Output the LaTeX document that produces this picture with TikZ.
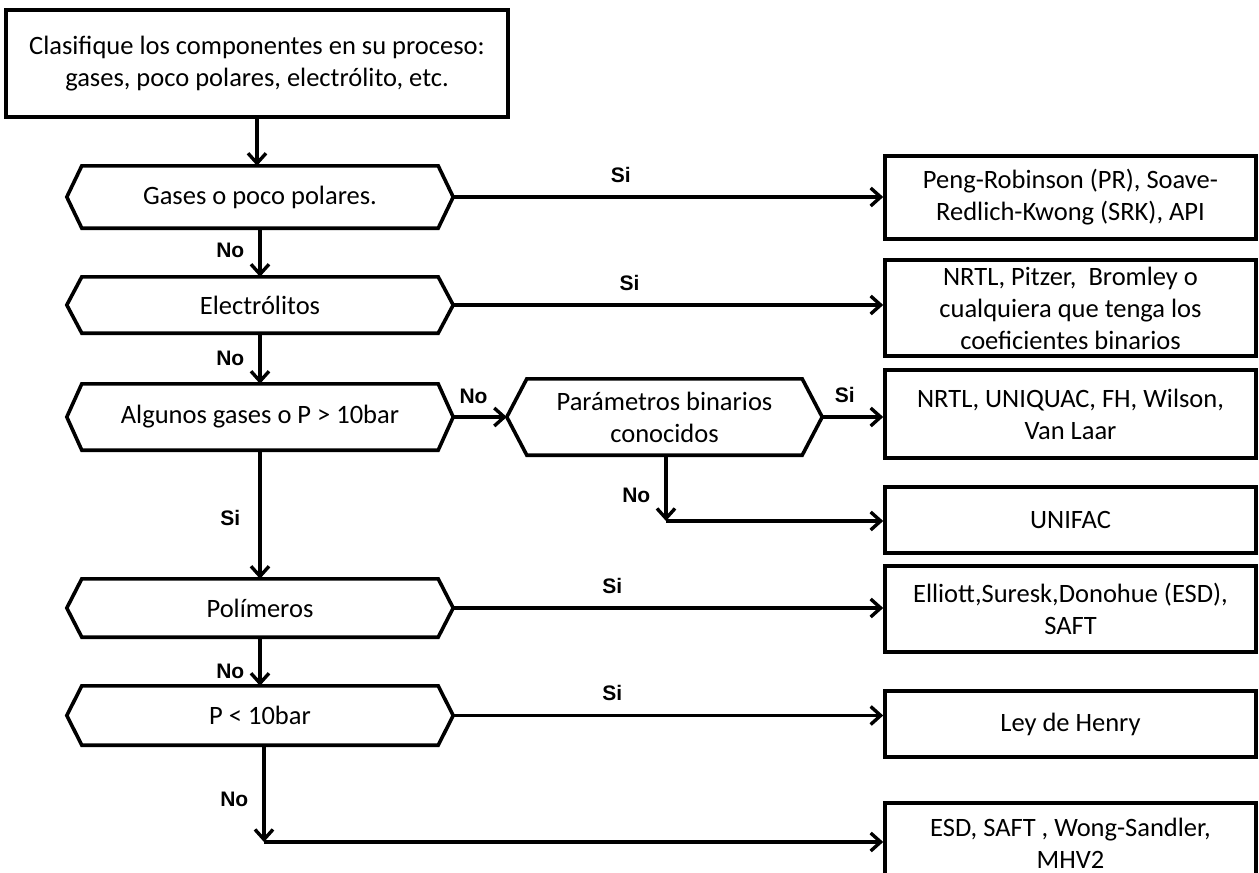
\documentclass[tikz,border=0pt]{standalone}
\usepackage{fontspec}
\setmainfont{Carlito}
\newfontfamily\labfont{Liberation Sans}
\usetikzlibrary{arrows.meta,calc}
\newcommand{\mainsz}{\fontsize{26.5}{32}\selectfont}
\newcommand{\labsz}{\labfont\bfseries\fontsize{21}{24}\selectfont}
\tikzset{
  box/.style={draw, line width=3.6pt, inner sep=0pt, align=center, font=\mainsz},
  hexn/.style={inner sep=0pt, align=center, font=\mainsz},
  hexline/.style={draw, line width=3.6pt, line join=miter},
  conn/.style={line width=3.4pt, -{Straight Barb[length=10pt,width=18pt]}},
  lab/.style={font=\labsz, inner sep=0pt},
}
\newcommand{\hexpath}[2]{\draw[hexline] (#1.west) -- ([xshift=#2pt]#1.north west) -- ([xshift=-#2pt]#1.north east) -- (#1.east) -- ([xshift=-#2pt]#1.south east) -- ([xshift=#2pt]#1.south west) -- cycle;}
\begin{document}
\begin{tikzpicture}[x=1pt,y=-1pt]
\useasboundingbox (0,0) rectangle (1259,873);
\fill[white] (0,0) rectangle (1259,873);
\clip (0,0) rectangle (1259,873);

% left column
\node[box, minimum width=502, minimum height=107] (top) at (257,63.5)
  {Clasifique los componentes en su proceso:\\gases, poco polares, electrólito, etc.};
\node[hexn, minimum width=386, minimum height=62] (g1) at (260,197) {Gases o poco polares.};
\hexpath{g1}{15}
\node[hexn, minimum width=386, minimum height=56] (g2) at (260,305) {Electrólitos};
\hexpath{g2}{15}
\node[hexn, minimum width=386, minimum height=66] (g3) at (260,417) {Algunos gases o P > 10bar};
\hexpath{g3}{15}
\node[hexn, minimum width=315, minimum height=76] (g4) at (664.5,417) {Parámetros binarios\\conocidos};
\hexpath{g4}{20}
\node[hexn, minimum width=386, minimum height=58] (g5) at (260,608) {Polímeros};
\hexpath{g5}{15}
\node[hexn, minimum width=386, minimum height=59] (g6) at (260,715.5) {P < 10bar};
\hexpath{g6}{15}

% right column
\node[box, minimum width=371, minimum height=83] (b1) at (1070.5,197.5) {Peng-Robinson (PR), Soave-\\Redlich-Kwong (SRK), API};
\node[box, minimum width=371, minimum height=96] (b2) at (1070.5,308) {NRTL, Pitzer,~ Bromley o\\cualquiera que tenga los\\coeficientes binarios};
\node[box, minimum width=371, minimum height=88] (b3) at (1070.5,414) {NRTL, UNIQUAC, FH, Wilson,\\Van Laar};
\node[box, minimum width=371, minimum height=66] (b4) at (1070.5,520) {UNIFAC};
\node[box, minimum width=371, minimum height=86] (b5) at (1070.5,609) {Elliott,Suresk,Donohue (ESD),\\SAFT};
\node[box, minimum width=371, minimum height=66] (b6) at (1070.5,724) {Ley de Henry};
\node[box, minimum width=371, minimum height=80] (b7) at (1070.5,843) {ESD, SAFT , Wong-Sandler,\\MHV2};

\coordinate (c1) at (666,521);
\coordinate (c2) at (264,842);

% connectors
\draw[conn] (top.south) -- (top.south |- g1.north);
\draw[conn] (g1.east) -- node[lab, pos=.39, above=13pt] {Si} (g1.east -| b1.west);
\draw[conn] (g1.south) -- node[lab, pos=.45, left=14pt] {No} (g2.north);
\draw[conn] (g2.east) -- node[lab, pos=.41, above=13pt] {Si} (g2.east -| b2.west);
\draw[conn] (g2.south) -- node[lab, pos=.49, left=14pt] {No} (g3.north);
\draw[conn] (g3.east) -- node[lab, pos=.38, above=12pt] {No} (g4.west);
\draw[conn] (g4.east) -- node[lab, pos=.37, above=13pt] {Si} (g4.east -| b3.west);
\draw[conn] (g4.south -| c1) -- node[lab, pos=.61, left=14pt] {No} (c1);
\draw[conn] (c1) -- (c1 -| b4.west);
\draw[conn] (g3.south) -- node[lab, pos=.53, left=18pt] {Si} (g5.north);
\draw[conn] (g5.east) -- node[lab, pos=.37, above=13pt] {Si} (g5.east -| b5.west);
\draw[conn] (g5.south) -- node[lab, pos=.70, left=14pt] {No} (g6.north);
\draw[conn] (g6.east) -- node[lab, pos=.37, above=13pt] {Si} (g6.east -| b6.west);
\draw[conn] (g6.south -| c2) -- node[lab, pos=.56, left=14pt] {No} (c2);
\draw[conn] (c2) -- (c2 -| b7.west);
\end{tikzpicture}
\end{document}
